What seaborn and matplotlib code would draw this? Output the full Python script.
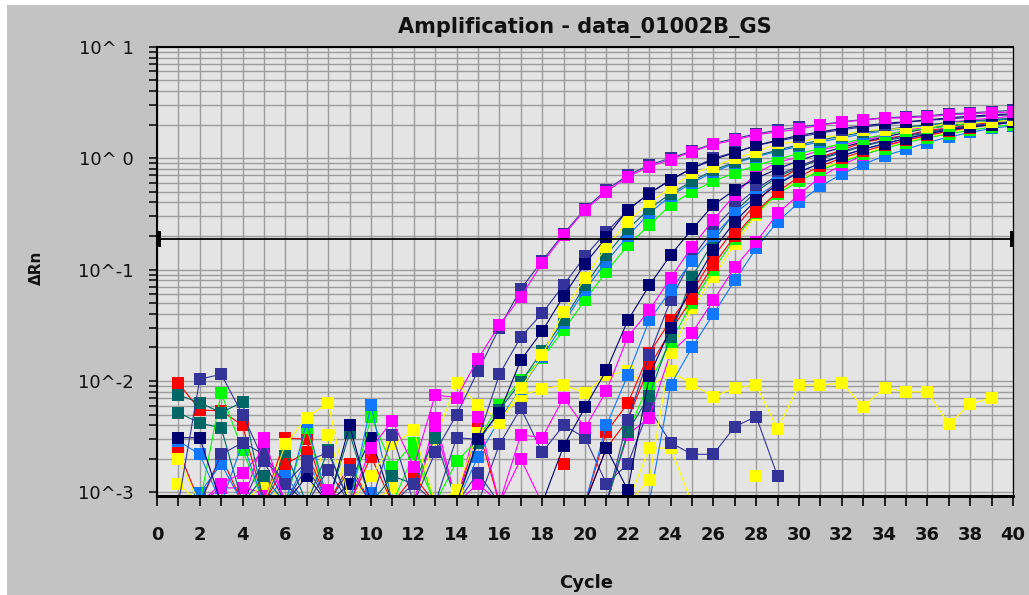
import numpy as np
import pandas as pd
import matplotlib
matplotlib.use("Agg")
import matplotlib.pyplot as plt
from matplotlib.patches import Rectangle
from matplotlib.ticker import FixedLocator, MultipleLocator, FuncFormatter, NullFormatter
import seaborn as sns

# ---------------------------------------------------------------- data
cycles = list(range(1, 41))
LOW = 0.0008      # reading under the lower edge of the plotted range
nan = np.nan      # no reading (negative value, not drawn on a log axis)
threshold = 0.19

# ΔRn per well, cycles 1..40
M1 = [LOW, LOW, LOW, LOW, 0.0031, LOW, LOW, 0.00105, LOW, 0.0025,
      0.0044, 0.0017, 0.0075, 0.0071, 0.0158, 0.0318, 0.057, 0.114, 0.204, 0.342,
      0.50, 0.68, 0.84, 0.97, 1.14, 1.33, 1.45, 1.62, 1.72, 1.82,
      1.98, 2.10, 2.20, 2.28, 2.30, 2.35, 2.45, 2.50, 2.55, 2.60]
S1 = [LOW, 0.0104, 0.0115, 0.0050, 0.0019, LOW, 0.0017, LOW, 0.0016, LOW,
      0.0033, LOW, 0.0023, 0.0050, 0.0123, 0.030, 0.067, 0.12, 0.21, 0.35,
      0.52, 0.70, 0.87, 1.00, 1.16, 1.35, 1.50, 1.65, 1.78, 1.90,
      2.00, 2.12, 2.22, 2.30, 2.35, 2.40, 2.50, 2.55, 2.62, 2.68]
N2 = [0.0031, 0.0031, LOW, LOW, LOW, LOW, LOW, LOW, 0.0040, LOW,
      LOW, LOW, LOW, LOW, 0.0030, 0.0052, 0.0154, 0.028, 0.058, 0.113,
      0.195, 0.345, 0.48, 0.64, 0.81, 0.97, 1.12, 1.30, 1.45, 1.60,
      1.72, 1.85, 1.95, 2.05, 2.12, 2.20, 2.30, 2.38, 2.45, 2.50]
S2 = [LOW, LOW, 0.0022, 0.0028, 0.0022, 0.0012, 0.0019, 0.0023, LOW, LOW,
      LOW, 0.0012, LOW, 0.0031, 0.0030, 0.0115, 0.0248, 0.0405, 0.0726, 0.132,
      0.217, 0.342, 0.486, 0.635, 0.81, 1.00, 1.13, 1.30, 1.42, 1.55,
      1.68, 1.80, 1.90, 2.00, 2.10, 2.18, 2.25, 2.32, 2.40, 2.45]
Y2 = [0.0020, LOW, LOW, LOW, LOW, 0.0027, 0.0047, 0.0064, LOW, 0.0014,
      0.0027, 0.0036, LOW, 0.00105, 0.0034, 0.0042, 0.0086, 0.017, 0.042, 0.084,
      0.16, 0.27, 0.40, 0.54, 0.73, 0.84, 1.00, 1.13, 1.36, 1.39,
      1.54, 1.60, 1.78, 1.80, 1.86, 1.90, 2.07, 2.07, 2.12, 2.20]
T2 = [0.0075, 0.0064, 0.0052, 0.0065, LOW, 0.0023, LOW, 0.0024, LOW, LOW,
      0.0014, 0.0012, 0.0031, LOW, 0.0028, 0.0055, 0.0098, 0.0185, 0.035, 0.072,
      0.135, 0.23, 0.35, 0.48, 0.62, 0.78, 0.92, 1.05, 1.18, 1.32,
      1.45, 1.58, 1.70, 1.80, 1.90, 2.00, 2.08, 2.15, 2.22, 2.28]
B2 = [0.0029, 0.0022, LOW, 0.0028, LOW, LOW, 0.0043, LOW, LOW, 0.0061,
      LOW, LOW, LOW, LOW, 0.0021, 0.0045, 0.0085, 0.0165, 0.033, 0.066,
      0.118, 0.20, 0.32, 0.46, 0.60, 0.75, 0.90, 1.03, 1.15, 1.28,
      1.40, 1.52, 1.65, 1.75, 1.85, 1.95, 2.05, 2.12, 2.20, 2.25]
G2 = [LOW, LOW, 0.0078, 0.0024, LOW, LOW, 0.0038, LOW, LOW, 0.0048,
      0.0017, 0.0028, LOW, 0.0019, 0.0030, 0.0061, 0.0102, 0.016, 0.0287, 0.053,
      0.096, 0.165, 0.25, 0.38, 0.50, 0.62, 0.74, 0.86, 0.98, 1.10,
      1.22, 1.35, 1.50, 1.62, 1.75, 1.85, 1.95, 2.05, 2.12, 2.20]
N3 = [LOW, LOW, LOW, LOW, LOW, LOW, 0.0014, LOW, 0.0012, 0.0031,
      LOW, LOW, LOW, LOW, LOW, LOW, LOW, LOW, 0.0026, 0.0058,
      0.0125, 0.035, 0.072, 0.135, 0.23, 0.38, 0.52, 0.66, 0.80, 0.95,
      1.10, 1.25, 1.40, 1.55, 1.70, 1.85, 1.95, 2.05, 2.15, 2.25]
N4 = [LOW, LOW, LOW, LOW, LOW, LOW, LOW, LOW, LOW, LOW,
      LOW, LOW, LOW, LOW, LOW, LOW, LOW, LOW, LOW, LOW,
      0.0025, 0.00105, 0.011, 0.030, 0.070, 0.15, 0.27, 0.42, 0.58, 0.75,
      0.90, 1.05, 1.20, 1.35, 1.50, 1.65, 1.80, 1.90, 2.00, 2.10]
M3 = [LOW, LOW, 0.0012, 0.0015, 0.0024, LOW, LOW, LOW, LOW, LOW,
      LOW, LOW, 0.0047, LOW, 0.0048, LOW, 0.0033, 0.0031, 0.0071, 0.0038,
      0.0081, 0.025, 0.043, 0.084, 0.16, 0.28, 0.47, 0.73, 0.92, 1.02,
      1.18, 1.30, 1.45, 1.60, 1.78, 1.90, 2.10, 2.20, 2.28, 2.38]
M4 = [LOW, LOW, 0.0011, 0.0011, 0.00099, LOW, LOW, LOW, LOW, LOW,
      LOW, LOW, 0.0039, LOW, 0.0012, LOW, 0.0020, LOW, LOW, LOW,
      LOW, 0.0033, 0.0047, 0.018, 0.027, 0.053, 0.105, 0.177, 0.32, 0.47,
      0.68, 0.87, 1.06, 1.25, 1.45, 1.60, 1.75, 1.90, 2.00, 2.10]
B3 = [LOW, 0.00099, 0.0018, LOW, LOW, 0.0014, LOW, LOW, LOW, 0.00099,
      LOW, LOW, LOW, LOW, LOW, LOW, LOW, LOW, LOW, LOW,
      0.0040, 0.0113, 0.035, 0.065, 0.12, 0.20, 0.32, 0.45, 0.60, 0.75,
      0.90, 1.05, 1.20, 1.35, 1.50, 1.65, 1.80, 1.90, 2.00, 2.10]
B4 = [LOW, LOW, LOW, LOW, LOW, LOW, 0.0020, LOW, LOW, LOW,
      LOW, LOW, LOW, LOW, LOW, LOW, LOW, LOW, LOW, LOW,
      LOW, LOW, LOW, 0.0092, 0.020, 0.040, 0.080, 0.155, 0.27, 0.40,
      0.56, 0.72, 0.88, 1.05, 1.20, 1.38, 1.55, 1.70, 1.85, 1.95]
S3 = [LOW, LOW, LOW, LOW, 0.0020, 0.0012, LOW, 0.0016, LOW, LOW,
      LOW, LOW, LOW, LOW, 0.0015, LOW, LOW, LOW, LOW, LOW,
      LOW, 0.0045, 0.017, 0.053, 0.126, 0.23, 0.37, 0.53, 0.70, 0.85,
      1.00, 1.15, 1.30, 1.45, 1.60, 1.72, 1.85, 1.95, 2.05, 2.15]
T3 = [0.0052, 0.0042, 0.0038, LOW, 0.0014, LOW, LOW, LOW, 0.0034, LOW,
      LOW, LOW, LOW, LOW, LOW, LOW, LOW, LOW, LOW, LOW,
      LOW, 0.0035, 0.0074, 0.025, 0.086, 0.178, 0.33, 0.50, 0.68, 0.82,
      0.98, 1.12, 1.28, 1.42, 1.56, 1.70, 1.82, 1.92, 2.02, 2.12]
R3 = [0.0096, 0.0055, 0.0054, 0.0040, LOW, 0.0031, 0.0030, LOW, 0.0018, LOW,
      LOW, 0.0014, LOW, LOW, 0.0038, LOW, LOW, LOW, LOW, LOW,
      0.0035, 0.0063, 0.0177, 0.035, 0.063, 0.13, 0.235, 0.395, 0.635, 0.81,
      1.02, 1.18, 1.39, 1.50, 1.60, 1.78, 1.86, 1.98, 2.10, 2.20]
R4 = [0.0024, LOW, 0.0021, LOW, LOW, 0.0018, 0.0023, LOW, LOW, 0.0021,
      LOW, LOW, LOW, LOW, LOW, LOW, LOW, LOW, LOW, LOW,
      0.0025, 0.0045, 0.0135, 0.028, 0.055, 0.11, 0.20, 0.33, 0.50, 0.68,
      0.85, 1.00, 1.15, 1.30, 1.45, 1.60, 1.75, 1.88, 2.00, 2.10]
G3 = [LOW, LOW, LOW, LOW, LOW, LOW, LOW, LOW, LOW, LOW,
      LOW, 0.0022, LOW, LOW, LOW, LOW, LOW, LOW, LOW, LOW,
      LOW, 0.0035, 0.0095, 0.0225, 0.050, 0.10, 0.19, 0.32, 0.48, 0.62,
      0.78, 0.92, 1.08, 1.22, 1.38, 1.52, 1.65, 1.78, 1.90, 2.00]
Y3 = [0.0012, LOW, LOW, LOW, 0.0012, LOW, LOW, 0.0033, LOW, LOW,
      0.0011, LOW, LOW, LOW, LOW, LOW, LOW, LOW, LOW, LOW,
      LOW, LOW, 0.0013, 0.018, 0.045, 0.086, 0.17, 0.31, 0.48, 0.64,
      0.80, 0.95, 1.10, 1.25, 1.40, 1.55, 1.70, 1.85, 2.00, 2.10]
YN = [LOW, LOW, LOW, LOW, LOW, LOW, LOW, LOW, LOW, LOW,
      LOW, LOW, 0.0030, 0.0096, 0.0061, 0.0045, 0.0074, 0.0085, 0.0092, 0.0078,
      0.0113, 0.0122, 0.0088, 0.0122, 0.0094, 0.0072, 0.0087, 0.0092, 0.0037, 0.0092,
      0.0092, 0.0096, 0.0059, 0.0087, 0.0080, 0.0080, 0.0041, 0.0062, 0.0071, nan]
SN = [nan, nan, nan, nan, nan, nan, nan, nan, nan, nan,
      nan, nan, nan, nan, LOW, 0.0027, 0.0057, 0.0023, 0.0040, 0.0031,
      0.0012, 0.0018, 0.0057, 0.0028, 0.0022, 0.0022, 0.0039, 0.0048, 0.0014, nan,
      nan, nan, nan, nan, nan, nan, nan, nan, nan, nan]
YN2 = [nan, nan, nan, nan, nan, nan, nan, nan, nan, nan,
       nan, nan, nan, nan, nan, nan, nan, nan, nan, nan,
       nan, LOW, 0.0025, 0.0025, LOW, nan, nan, 0.0014, nan, nan,
       nan, nan, nan, nan, nan, nan, nan, nan, nan, nan]
RN = [nan, nan, nan, nan, nan, nan, nan, nan, nan, nan,
      nan, nan, nan, nan, nan, nan, nan, nan, 0.0018, nan,
      nan, nan, nan, nan, nan, nan, nan, nan, nan, nan,
      nan, nan, nan, nan, nan, nan, nan, nan, nan, nan]

# drawing order: negatives underneath, earliest amplifiers on top
wells = {
    "RN": RN, "YN2": YN2, "SN": SN, "YN": YN,
    "B4": B4, "M4": M4, "Y3": Y3, "G3": G3, "R4": R4, "R3": R3,
    "T3": T3, "S3": S3, "B3": B3, "M3": M3, "N4": N4, "N3": N3,
    "G2": G2, "B2": B2, "T2": T2, "Y2": Y2, "S2": S2, "N2": N2,
    "S1": S1, "M1": M1,
}

MAGENTA, NAVY, SLATE = "#ff00ff", "#000070", "#333399"
YELLOW, GREEN, TEAL = "#ffff00", "#00ff00", "#006666"
RED, BLUE = "#ff0000", "#1177ff"
palette = {
    "RN": RED, "YN2": YELLOW, "SN": SLATE, "YN": YELLOW,
    "B4": BLUE, "M4": MAGENTA, "Y3": YELLOW, "G3": GREEN, "R4": RED, "R3": RED,
    "T3": TEAL, "S3": SLATE, "B3": BLUE, "M3": MAGENTA, "N4": NAVY, "N3": NAVY,
    "G2": GREEN, "B2": BLUE, "T2": TEAL, "Y2": YELLOW, "S2": SLATE, "N2": NAVY,
    "S1": SLATE, "M1": MAGENTA,
}

# long table; a break in the readings starts a new line segment
rows = []
for name, vals in wells.items():
    assert len(vals) == len(cycles)
    seg, gap = 0, True
    for c, v in zip(cycles, vals):
        if np.isnan(v):
            gap = True
            continue
        if gap:
            seg += 1
            gap = False
        rows.append((name, f"{name}-{seg}", c, v))
df = pd.DataFrame(rows, columns=["well", "segment", "Cycle", "dRn"])

# ---------------------------------------------------------------- figure
sns.set_theme(style="white")
plt.rcParams["font.family"] = ["DejaVu Sans"]

W, H = 1029, 595
fig = plt.figure(figsize=(W / 100, H / 100), dpi=100, facecolor="white")
fig.patches.append(Rectangle((7 / W, 0), 1, 1 - 5 / H, transform=fig.transFigure,
                             facecolor="#c3c3c3", edgecolor="none", zorder=-10))

ax = fig.add_axes([157 / W, (H - 496) / H, (1013 - 157) / W, (496 - 46.7) / H])
ax.set_facecolor("#e4e4e4")
ax.set_yscale("log")
ax.set_xlim(0, 40)
ax.set_ylim(0.00093, 10)

# grid: every cycle and every log sub-decade
ax.xaxis.set_major_locator(MultipleLocator(1))
ax.yaxis.set_major_locator(FixedLocator([1e-3, 1e-2, 1e-1, 1, 10]))
minor = [m * 10.0 ** e for e in range(-3, 1) for m in range(2, 10)]
ax.yaxis.set_minor_locator(FixedLocator(minor))
ax.grid(which="both", axis="both", color="#9c9c9c", linewidth=1.0, zorder=0)
ax.set_axisbelow(True)

sns.lineplot(data=df, x="Cycle", y="dRn", hue="well", units="segment",
             estimator=None, hue_order=list(wells.keys()), palette=palette,
             marker="s", markersize=8.6, markeredgewidth=0, linewidth=0.8,
             sort=True, legend=False, ax=ax)

# threshold line with its handles at both ends
ax.axhline(threshold, color="black", linewidth=1.3, zorder=5)
left_handle = [(0, -1), (0.42, -1), (0.42, 1), (0, 1), (0, -1)]
right_handle = [(0, -1), (-0.42, -1), (-0.42, 1), (0, 1), (0, -1)]
ax.plot([0], [threshold], marker=left_handle, markersize=12, color="black",
        markeredgewidth=0, zorder=6, clip_on=False)
ax.plot([40], [threshold], marker=right_handle, markersize=12, color="black",
        markeredgewidth=0, zorder=6, clip_on=False)

# axes frame
for side, lw in (("left", 1.5), ("bottom", 2.2), ("top", 1.5), ("right", 0.9)):
    ax.spines[side].set_visible(True)
    ax.spines[side].set_color("black")
    ax.spines[side].set_linewidth(lw)

ax.set_yticklabels(["10^-3", "10^-2", "10^-1", "10^ 0", "10^ 1"])
ax.yaxis.set_minor_formatter(NullFormatter())
ax.xaxis.set_major_formatter(FuncFormatter(lambda v, p: f"{int(v)}" if int(v) % 2 == 0 else ""))
ax.tick_params(axis="y", which="both", direction="out", length=6, width=1.1,
               color="black", left=True, labelsize=13, pad=11, labelcolor="#111111")
ax.tick_params(axis="x", which="major", direction="out", length=7.5, width=1.2,
               color="black", bottom=True, labelsize=13, pad=14, labelcolor="#111111")
for lab in ax.get_xticklabels():
    lab.set_fontweight("bold")

ax.set_xlabel("")
ax.set_ylabel("")

fig.text(585 / W, (H - 28) / H, "Amplification - data_01002B_GS", ha="center",
         va="center", fontsize=15, fontweight="bold", color="#111111")
fig.text(586 / W, (H - 583) / H, "Cycle", ha="center", va="center",
         fontsize=13, fontweight="bold", color="#111111")
fig.text(36 / W, (H - 268) / H, "ΔRn", ha="center", va="center", rotation=90,
         fontsize=11, fontweight="bold", color="#111111")

fig.savefig("out.png", dpi=100, facecolor=fig.get_facecolor())
